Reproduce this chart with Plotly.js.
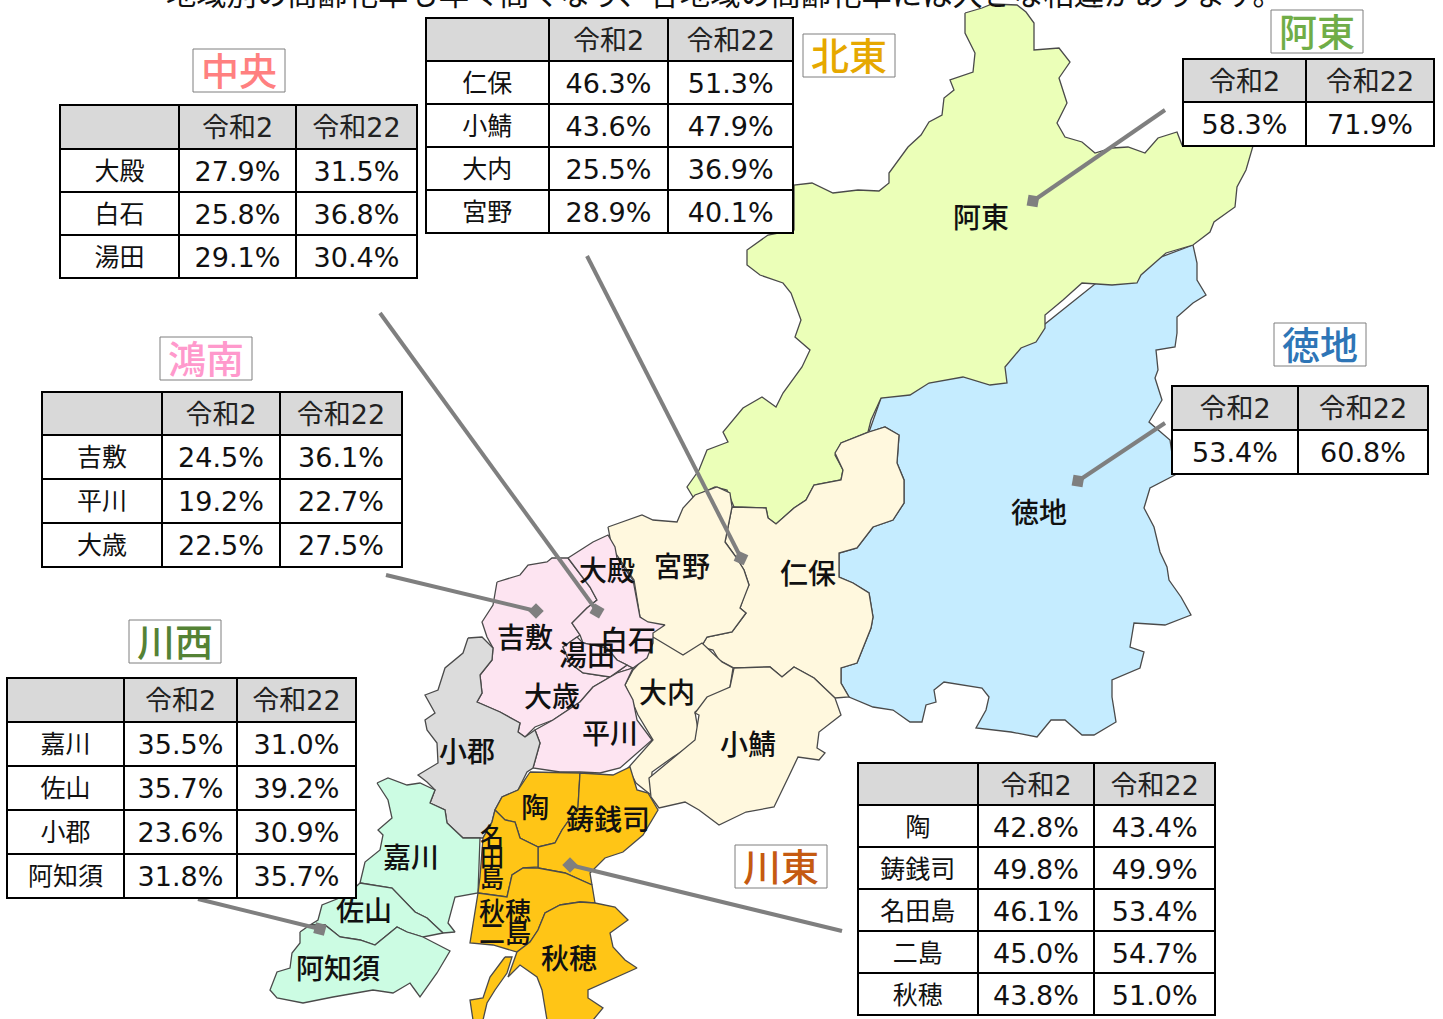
<!DOCTYPE html>
<html><head><meta charset="utf-8">
<style>html,body{margin:0;padding:0;background:#fff;overflow:hidden}
.cell-text{transform:translateY(4px)}</style>
<script src="https://cdn.plot.ly/plotly-3.0.1.min.js"></script></head><body><div id="c" style="width:1443px;height:1019px"></div>
<script>
const headline="地域別の高齢化率も年々高くなり、各地域の高齢化率には大きな相違があります。";
const yearHeads=["令和2","令和22"];
const areaNames=["中央","北東","阿東","徳地","鴻南","川西","川東"];
const areaColors=["#FF8080","#E6A800","#70AD47","#2E75B6","#FF99CC","#548235","#C55A11"];
const chuoNames=["大殿","白石","湯田"],chuoR2=["27.9%","25.8%","29.1%"],chuoR22=["31.5%","36.8%","30.4%"];
const hokutoNames=["仁保","小鯖","大内","宮野"],hokutoR2=["46.3%","43.6%","25.5%","28.9%"],hokutoR22=["51.3%","47.9%","36.9%","40.1%"];
const atoR2=["58.3%"],atoR22=["71.9%"];
const tokujiR2=["53.4%"],tokujiR22=["60.8%"];
const konanNames=["吉敷","平川","大歳"],konanR2=["24.5%","19.2%","22.5%"],konanR22=["36.1%","22.7%","27.5%"];
const kawanishiNames=["嘉川","佐山","小郡","阿知須"],kawanishiR2=["35.5%","35.7%","23.6%","31.8%"],kawanishiR22=["31.0%","39.2%","30.9%","35.7%"];
const kawahigashiNames=["陶","鋳銭司","名田島","二島","秋穂"],kawahigashiR2=["42.8%","49.8%","46.1%","45.0%","43.8%"],kawahigashiR22=["43.4%","49.9%","53.4%","54.7%","51.0%"];

const outlineTokuji=[[869,432],[881,398],[1000,360],[1100,280],[1193,245],[1197,263],[1197,280],[1206,295],[1193,303],[1177,317],[1177,333],[1175,347],[1156,350],[1158,370],[1155,378],[1162,400],[1149,422],[1170,440],[1175,475],[1150,488],[1144,508],[1154,527],[1160,552],[1167,567],[1169,580],[1181,597],[1191,615],[1165,625],[1134,623],[1130,647],[1144,652],[1140,668],[1112,680],[1112,697],[1116,722],[1094,735],[1082,735],[1065,720],[1051,720],[1037,737],[1011,732],[976,728],[986,710],[989,697],[982,688],[944,682],[934,690],[936,702],[926,705],[922,722],[910,722],[893,710],[873,707],[849,697],[841,683],[841,668],[857,663],[861,653],[871,628],[873,617],[869,593],[853,583],[839,577],[839,553],[857,548],[873,527],[893,520],[904,503],[904,480],[897,463],[899,435],[885,427]];
const outlineAto=[[965,13],[982,8],[992,4],[1017,5],[1026,12],[1034,23],[1034,50],[1059,48],[1070,62],[1059,78],[1067,103],[1057,123],[1065,137],[1082,142],[1095,153],[1112,148],[1128,147],[1145,153],[1158,138],[1177,132],[1182,145],[1253,146],[1246,170],[1237,187],[1235,207],[1214,222],[1210,232],[1193,245],[1166,253],[1141,275],[1137,283],[1112,285],[1082,283],[1063,300],[1045,315],[1045,328],[1036,342],[1021,348],[1005,367],[1007,383],[990,385],[963,377],[929,383],[910,395],[881,398],[871,420],[868,432],[841,443],[835,455],[843,470],[841,480],[814,485],[806,500],[794,508],[776,524],[768,518],[766,508],[734,507],[727,490],[715,487],[693,497],[687,487],[699,470],[707,450],[728,442],[723,432],[743,408],[762,397],[776,407],[783,393],[802,367],[810,350],[795,337],[801,320],[791,293],[783,283],[760,275],[747,265],[747,250],[768,235],[794,230],[794,185],[812,183],[833,193],[858,190],[879,191],[889,183],[889,173],[908,147],[921,135],[929,122],[942,115],[944,98],[954,90],[950,80],[973,72],[975,53],[965,33]];
const outlineNiho=[[869,432],[885,427],[899,435],[897,463],[904,480],[904,503],[893,520],[873,527],[857,548],[839,553],[839,577],[853,583],[869,593],[873,617],[871,628],[861,653],[857,663],[841,668],[841,683],[849,697],[835,698],[814,678],[794,667],[782,677],[770,667],[734,668],[719,660],[713,650],[701,647],[707,637],[732,632],[746,613],[740,608],[746,590],[749,585],[744,570],[736,557],[725,542],[732,507],[766,508],[768,518],[776,524],[794,508],[806,500],[814,485],[841,480],[843,470],[835,453],[841,443]];
const outlineMiyano=[[608,527],[642,515],[653,520],[677,522],[683,508],[695,495],[717,487],[730,493],[732,507],[725,542],[736,557],[744,570],[749,585],[740,608],[746,613],[732,632],[707,637],[701,647],[683,655],[669,650],[651,637],[647,623],[640,617],[634,580],[612,548]];
const outlineOuchi=[[653,637],[683,655],[702,643],[715,655],[722,662],[733,668],[730,687],[707,703],[695,712],[698,730],[695,743],[673,757],[652,772],[651,795],[636,783],[628,768],[653,740],[638,715],[625,685],[633,670],[647,655]];
const outlineOsaba=[[734,668],[770,667],[782,677],[794,667],[814,678],[835,698],[841,715],[819,732],[817,748],[825,753],[819,760],[798,757],[788,778],[774,807],[746,812],[719,825],[699,810],[685,802],[659,808],[651,797],[649,778],[675,757],[695,740],[699,715],[695,713],[707,697],[730,687]];
const outlineYoshiki=[[497,582],[520,575],[528,565],[547,562],[552,558],[568,558],[590,587],[597,600],[587,608],[572,623],[580,635],[577,637],[563,647],[570,663],[583,673],[610,677],[627,665],[633,668],[617,673],[593,687],[580,702],[553,720],[535,727],[525,737],[518,732],[520,723],[500,712],[477,702],[482,693],[480,675],[492,660],[493,648],[487,637],[482,622],[493,605]];
const outlineOtono=[[568,558],[593,542],[608,535],[615,547],[617,558],[633,580],[640,617],[648,622],[665,625],[653,633],[653,643],[647,658],[633,668],[627,665],[617,660],[607,648],[583,643],[580,635],[572,623],[587,608],[597,600],[590,587]];
const outlineYuda=[[577,637],[563,647],[570,663],[583,673],[610,677],[627,665],[617,660],[607,648],[583,643]];
const outlineHirakawa=[[633,668],[625,685],[633,700],[637,720],[652,740],[633,757],[620,768],[600,773],[580,772],[560,772],[533,768],[540,743],[535,730],[553,720],[580,702],[593,687],[617,673]];
const outlineOgori=[[468,638],[482,637],[493,648],[492,660],[480,675],[482,693],[477,702],[500,712],[520,723],[518,732],[525,737],[535,730],[540,743],[533,768],[527,772],[518,790],[502,797],[495,810],[492,822],[483,838],[463,838],[447,823],[445,810],[430,803],[435,790],[427,782],[418,775],[438,763],[437,743],[427,730],[425,720],[435,713],[425,695],[438,690],[445,668],[463,653]];
const outlineKagawa=[[377,783],[388,778],[407,785],[420,783],[435,790],[430,803],[445,810],[447,823],[463,838],[480,838],[478,893],[455,897],[448,923],[455,932],[443,933],[427,918],[415,912],[392,888],[360,883],[365,862],[380,850],[383,835],[378,830],[392,818],[388,800]];
const outlineSayama=[[360,883],[392,888],[415,912],[427,918],[443,933],[423,937],[407,932],[397,927],[375,945],[360,940],[340,937],[325,925],[310,925],[318,920],[322,905],[347,895]];
const outlineAjisu=[[300,932],[310,925],[325,925],[340,937],[360,940],[375,945],[397,927],[407,932],[423,937],[450,951],[437,973],[420,997],[415,990],[410,983],[393,993],[373,990],[333,997],[303,1003],[277,998],[270,990],[277,972],[290,968],[292,953],[300,943]];
const outlineSue=[[530,772],[580,773],[578,807],[562,830],[555,843],[538,847],[520,838],[515,822],[505,820],[495,810],[502,797],[518,790]];
const outlineSuzenji=[[580,773],[613,775],[630,767],[637,790],[648,793],[658,810],[643,835],[623,852],[605,858],[590,873],[592,885],[565,873],[538,868],[538,847],[555,843],[562,830],[578,807]];
const outlineNadajima=[[495,810],[505,820],[515,822],[520,838],[538,847],[538,867],[523,868],[512,875],[507,897],[478,893],[480,877],[483,838],[492,822]];
const outlineFutajima=[[523,868],[538,868],[565,873],[592,885],[595,903],[580,902],[560,905],[545,913],[538,930],[530,942],[517,952],[493,945],[470,943],[473,923],[478,893],[507,897],[512,875]];
const outlineAio=[[560,905],[580,902],[595,903],[615,907],[628,920],[610,933],[613,947],[625,960],[637,968],[610,980],[588,990],[588,998],[603,1008],[593,1020],[547,1020],[542,990],[537,977],[520,965],[508,977],[517,952],[530,942],[538,930],[545,913]];
const outlineAioWest=[[505,957],[512,957],[507,973],[495,990],[487,1003],[483,1020],[473,1020],[470,1000],[483,998],[490,977]];

const labelNames=["阿東","徳地","仁保","宮野","大殿","吉敷","白石","湯田","大歳","大内","平川","小鯖","小郡","陶","鋳銭司","名","田","島","嘉川","佐山","秋穂","二島","秋穂","阿知須"];
const labelX=[981,1039,808,682,607,525,628,587,552,667,610,748,467,535,608,492,492,492,411,364,505,505,569,338];
const labelY=[221,516,577,570,574,641,644,659,700,696,737,748,755,811,823,839,860,881,861,914,914,936,962,972];
const labelSize=[28,28,28,28,28,28,28,28,28,28,28,28,28,28,28,24,24,24,28,28,26,26,28,28];

const leaderFromX=[1165,1165,587,380,386,198,842],leaderFromY=[110,423,256,313,575,899,931];
const leaderToX=[1033,1078,741,597,536,320,570],leaderToY=[201,481,558,611,611,929,865];
const leaderAngle=[10,10,25,30,45,15,45];

const boxLeft=[193,803,1271,1274,160,129,735],boxTop=[49,34,10,323,337,620,845];

const fills=[
 [outlineTokuji,"#C5ECFF"],[outlineAto,"#EBFFB8"],[outlineNiho,"#FFF8DE"],[outlineMiyano,"#FFF8DE"],[outlineOuchi,"#FFF8DE"],[outlineOsaba,"#FFF8DE"],
 [outlineYoshiki,"#FDE4F1"],[outlineOtono,"#FDE4F1"],[outlineYuda,"#FDE4F1"],[outlineHirakawa,"#FDE4F1"],[outlineOgori,"#DCDCDC"],
 [outlineKagawa,"#CCFCE3"],[outlineSayama,"#CCFCE3"],[outlineAjisu,"#CCFCE3"],
 [outlineSue,"#FFC516"],[outlineSuzenji,"#FFC516"],[outlineNadajima,"#FFC516"],[outlineFutajima,"#FFC516"],[outlineAio,"#FFC516"],[outlineAioWest,"#FFC516"]];
const traces=fills.map(([o,col])=>({type:"scatter",mode:"lines",x:o.map(p=>p[0]).concat(o[0][0]),y:o.map(p=>p[1]).concat(o[0][1]),fill:"toself",fillcolor:col,line:{color:"#4A4A4A",width:1.3},hoverinfo:"skip",showlegend:false}));
leaderFromX.forEach((_,i)=>traces.push({type:"scatter",mode:"lines",x:[leaderFromX[i],leaderToX[i]],y:[leaderFromY[i],leaderToY[i]],line:{color:"#7F7F7F",width:4},hoverinfo:"skip",showlegend:false}));
traces.push({type:"scatter",mode:"markers",x:leaderToX,y:leaderToY,marker:{symbol:"square",size:11,color:"#7F7F7F",angle:leaderAngle},hoverinfo:"skip",showlegend:false});
traces.push({type:"scatter",mode:"text",x:labelX,y:labelY,text:labelNames,textposition:"middle center",textfont:{family:"'Noto Sans CJK JP'",size:labelSize,color:"#111",weight:500},hoverinfo:"skip",showlegend:false});

const W=1443,H=1019;
function tbl(x0,x1,cols,rows,values,heads,fs){
 const n=rows.length-1;
 const sizes=values.map((v,i)=>(values.length===3&&i===0)?25:fs);
 const fam="'DejaVu Sans','Noto Sans CJK JP'";
 return {type:"table",domain:{x:[x0/W,x1/W],y:[1-(rows[n]+2)/H,1-rows[0]/H]},columnwidth:cols,
  header:{values:heads,height:rows[1]-rows[0],align:"center",fill:{color:"#D9D9D9"},line:{color:"#000",width:2},font:{family:fam,size:sizes,color:"#222"}},
  cells:{values:values,height:rows[2]-rows[1],align:"center",fill:{color:"#fff"},line:{color:"#000",width:2},font:{family:fam,size:sizes,color:"#111"}}};
}
traces.push(tbl(60,417,[119,117,121],[105,149,192,235,278],[chuoNames,chuoR2,chuoR22],["",...yearHeads],27));
traces.push(tbl(426,794,[123,120,125],[18,61,104,147,190,233],[hokutoNames,hokutoR2,hokutoR22],["",...yearHeads],27));
traces.push(tbl(1183,1434,[123,128],[59,102,146],[atoR2,atoR22],yearHeads,27));
traces.push(tbl(1172,1428,[126,130],[386,430,474],[tokujiR2,tokujiR22],yearHeads,27));
traces.push(tbl(42,402,[120,118,122],[392,435,479,523,567],[konanNames,konanR2,konanR22],["",...yearHeads],27));
traces.push(tbl(7,356,[117,113,119],[678,722,766,810,855,899],[kawanishiNames,kawanishiR2,kawanishiR22],["",...yearHeads],27));
traces.push(tbl(858,1216,[120,117,121],[763,805,847,889,931,973,1014],[kawahigashiNames,kawahigashiR2,kawahigashiR22],["",...yearHeads],27));

const shapes=boxLeft.map((l,i)=>({type:"rect",xref:"x",yref:"y",x0:l,x1:l+92,y0:boxTop[i],y1:boxTop[i]+43,line:{color:"#7F7F7F",width:1},fillcolor:"#fff",layer:"above"}));
const annotations=boxLeft.map((l,i)=>({xref:"x",yref:"y",x:l+46,y:boxTop[i]+19,text:areaNames[i],showarrow:false,xanchor:"center",yanchor:"middle",font:{family:"'Noto Sans CJK JP'",size:38,color:areaColors[i],weight:500}}));
annotations.push({xref:"paper",yref:"paper",x:724.5/W,y:1,yanchor:"middle",yshift:8,xanchor:"center",text:headline,showarrow:false,font:{family:"'Noto Sans CJK JP'",size:30.3,color:"#111"}});
Plotly.newPlot("c",traces,{width:W,height:H,margin:{l:0,r:0,t:0,b:0},paper_bgcolor:"#fff",plot_bgcolor:"#fff",showlegend:false,
 xaxis:{range:[0,W],visible:false,fixedrange:true},yaxis:{range:[H,0],visible:false,fixedrange:true},shapes,annotations},{staticPlot:true,displayModeBar:false});
</script></body></html>
